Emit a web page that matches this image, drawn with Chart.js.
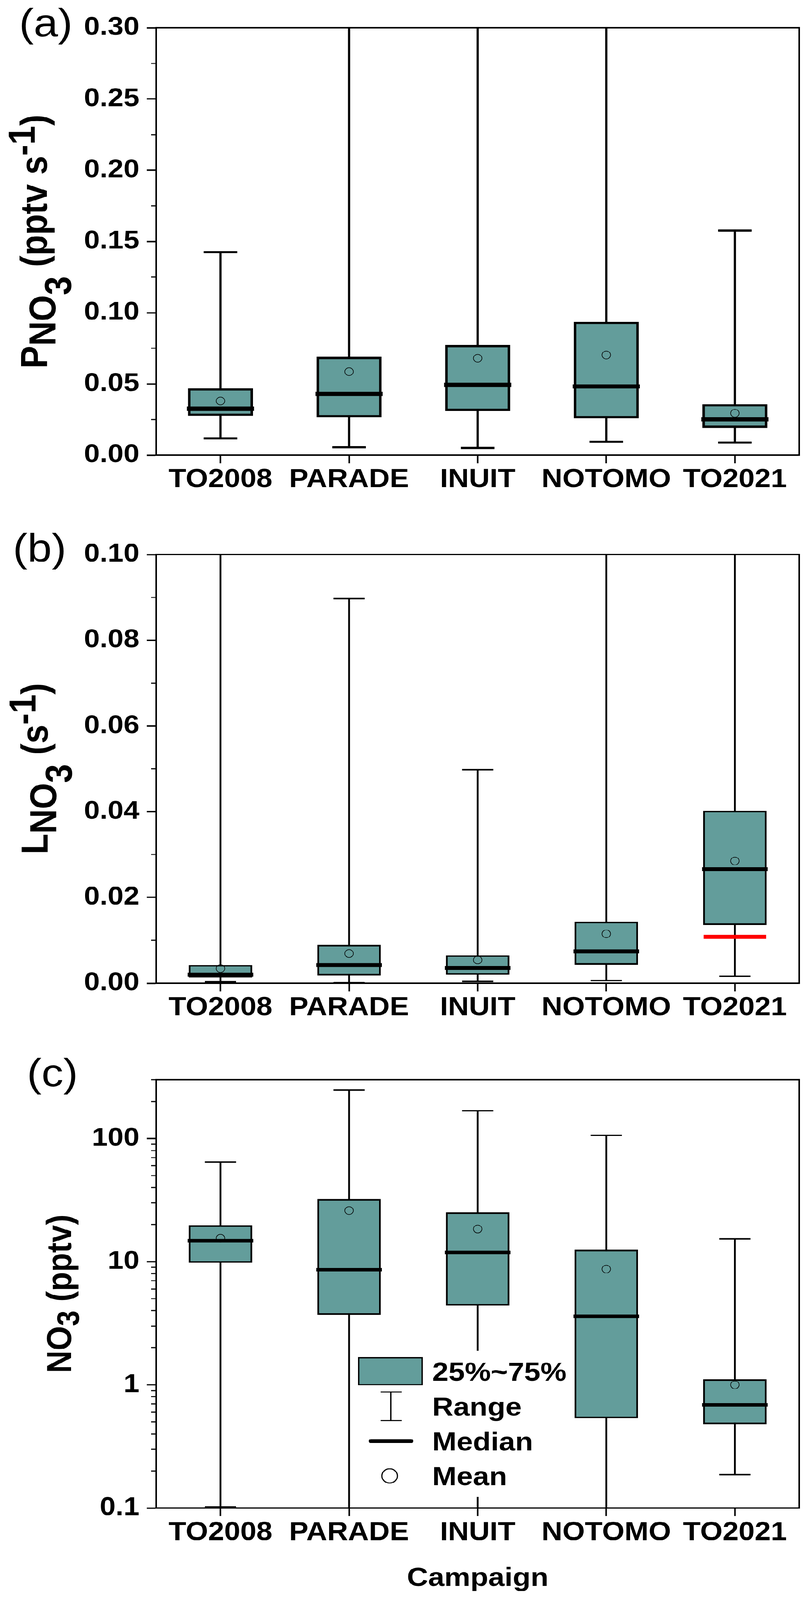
<!DOCTYPE html>
<html><head><meta charset="utf-8">
<script src="https://cdn.jsdelivr.net/npm/chart.js@4.4.1/dist/chart.umd.min.js"></script>
<style>
html,body{margin:0;padding:0;background:#fff;overflow:hidden;}
#wrap{position:relative;width:2067px;height:4539px;background:#fff;transform-origin:0 0;}
canvas{position:absolute;left:0;}
</style></head><body>
<div id="wrap">
<canvas id="ca" style="top:0px" width="2067" height="1460"></canvas>
<canvas id="cb" style="top:1460px" width="2067" height="1460"></canvas>
<canvas id="cc" style="top:2920px" width="2067" height="1619"></canvas>
</div>
<script>
const campaigns = ['TO2008','PARADE','INUIT','NOTOMO','TO2021'];

// (a) P(NO3), pptv s-1  (maxima above 0.30 are off-scale estimates)
const pMin  = [0.0117, 0.0055, 0.0050, 0.0093, 0.0088];
const pQ1   = [0.0276, 0.0265, 0.0310, 0.0259, 0.0192];
const pMed  = [0.0325, 0.0429, 0.0493, 0.0482, 0.0250];
const pQ3   = [0.0469, 0.0690, 0.0772, 0.0935, 0.0356];
const pMax  = [0.1426, 0.45, 0.40, 0.42, 0.1576];
const pMean = [0.0380, 0.0586, 0.0680, 0.0703, 0.0294];
const pTicks = [0, 0.05, 0.10, 0.15, 0.20, 0.25, 0.30];
const pTickLabels = ['0.00','0.05','0.10','0.15','0.20','0.25','0.30'];
const pMinor = [0.025, 0.075, 0.125, 0.175, 0.225, 0.275];

// (b) L(NO3), s-1  (maxima above 0.10 are off-scale estimates)
const lMin  = [0.0003, 0.0001, 0.0004, 0.0006, 0.0016];
const lQ1   = [0.0013, 0.0018, 0.0020, 0.0043, 0.0136];
const lMed  = [0.0020, 0.0042, 0.0035, 0.0074, 0.0266];
const lQ3   = [0.0042, 0.0089, 0.0065, 0.0143, 0.0402];
const lMax  = [0.15, 0.0897, 0.0498, 0.13, 0.12];
const lMean = [0.0034, 0.0069, 0.0054, 0.0115, 0.0285];
const lRed  = [null, null, null, null, 0.0108];
const lTicks = [0, 0.02, 0.04, 0.06, 0.08, 0.10];
const lTickLabels = ['0.00','0.02','0.04','0.06','0.08','0.10'];
const lMinor = [0.01, 0.03, 0.05, 0.07, 0.09];

// (c) NO3, pptv  (minima below 0.1 are off-scale estimates)
const nMin  = [0.102, 0.05, 0.05, 0.05, 0.187];
const nQ1   = [9.8, 3.7, 4.4, 0.536, 0.48];
const nMed  = [14.8, 8.6, 11.9, 3.6, 0.69];
const nQ3   = [19.7, 32.2, 25.1, 12.5, 1.107];
const nMax  = [64.3, 247, 168, 106, 15.3];
const nMean = [15.5, 26, 18.4, 8.7, 1.0];
const nTicks = [0.1, 1, 10, 100];
const nTickLabels = ['0.1','1','10','100'];
const nMinor = [0.2,0.3,0.4,0.5,0.6,0.7,0.8,0.9,2,3,4,5,6,7,8,9,20,30,40,50,60,70,80,90,200,300];

const TEAL = '#639D9B';
const FAM = "'Liberation Sans', Arial, Helvetica, sans-serif";

function drawRotatedRich(ctx, segs, baseX, centerY, size) {
  ctx.save();
  ctx.translate(baseX, centerY);
  ctx.rotate(-Math.PI / 2);
  let total = 0;
  const ws = segs.map(s => { ctx.font = 'bold ' + (s.size || size) + 'px ' + FAM; const w = ctx.measureText(s.t).width; total += w; return w; });
  let x = -total / 2;
  ctx.textBaseline = 'alphabetic'; ctx.textAlign = 'left'; ctx.fillStyle = '#000';
  segs.forEach((s, i) => { ctx.font = 'bold ' + (s.size || size) + 'px ' + FAM; ctx.fillText(s.t, x, s.dy || 0); x += ws[i]; });
  ctx.restore();
}

function noPad(s) { s.paddingLeft = 0; s.paddingRight = 0; s.paddingTop = 0; s.paddingBottom = 0; }

function makeChart(id, o) {
  const pt = (data, style, r, bw, color, order, bg) => ({
    type: 'line', data: data, showLine: false, pointStyle: style, pointRadius: r, pointHoverRadius: r,
    pointBorderWidth: bw, pointBorderColor: color, pointBackgroundColor: bg || 'rgba(0,0,0,0)',
    borderColor: color, order: order, clip: {left: 300, right: 300, top: 0, bottom: 12}
  });
  const datasets = [
    {type: 'bar', data: o.min.map((v, i) => [v, o.max[i]]), backgroundColor: '#000', borderWidth: 0,
     barThickness: o.whiskerW, grouped: false, order: 6, clip: 0},
    {type: 'bar', data: o.q1.map((v, i) => [v, o.q3[i]]), backgroundColor: TEAL, borderColor: '#000',
     borderWidth: o.boxBorder, borderSkipped: false, barThickness: o.boxW, grouped: false, order: 5, clip: 0},
    pt(o.min, 'line', o.capR, o.capW, '#000', 4),
    pt(o.max, 'line', o.capR, o.capW, '#000', 4),
    pt(o.mean, 'circle', o.meanR, o.meanW, '#000', 3),
    pt(o.med, 'line', o.medR, o.medW, '#000', 2)
  ];
  if (o.red) datasets.push(pt(o.red, 'line', 80, 11, '#FF0000', 1));

  const deco = {
    id: 'deco_' + id,
    afterDatasetsDraw(chart) {
      if (o.legend) o.legend(chart.ctx, chart);
    },
    afterDraw(chart) {
      const ctx = chart.ctx, a = chart.chartArea, ys = chart.scales.y;
      ctx.save();
      ctx.strokeStyle = '#000'; ctx.lineWidth = 4;
      ctx.beginPath();
      ctx.moveTo(a.left - 2, a.top); ctx.lineTo(a.right, a.top); ctx.lineTo(a.right, a.bottom + 2);
      ctx.stroke();
      ctx.lineWidth = 3;
      o.minor.forEach(v => {
        const y = Math.round(ys.getPixelForValue(v));
        ctx.beginPath(); ctx.moveTo(a.left - 13, y); ctx.lineTo(a.left, y); ctx.stroke();
      });
      ctx.restore();
      drawRotatedRich(ctx, o.title, o.titleX, (a.top + a.bottom) / 2, o.titleSize);
      ctx.save();
      ctx.font = o.panelSize + 'px ' + FAM; ctx.fillStyle = '#000';
      ctx.textAlign = 'left'; ctx.textBaseline = 'alphabetic';
      ctx.fillText(o.panel, o.panelX, o.panelY);
      ctx.restore();
    }
  };

  return new Chart(document.getElementById(id), {
    type: 'bar',
    data: {labels: campaigns, datasets: datasets},
    options: {
      responsive: false, animation: false, devicePixelRatio: 1, events: [],
      layout: {autoPadding: false, padding: {left: 0, right: 20, top: o.padTop, bottom: 0}},
      plugins: {legend: {display: false}, tooltip: {enabled: false}},
      scales: {
        x: {
          type: 'category', offset: true,
          grid: {drawOnChartArea: false, offset: false, tickLength: 23, tickWidth: 4, tickColor: '#000'},
          border: {width: 4, color: '#000'},
          ticks: {font: {family: FAM, size: 74, weight: 'bold'}, color: '#000', padding: o.xPad, maxRotation: 0, autoSkip: false},
          title: o.xTitle ? {display: true, text: o.xTitle, font: {family: FAM, size: 75, weight: 'bold'}, color: '#000', padding: {top: 0, bottom: 16}} : {display: false},
          afterFit: s => { s.height = o.xAxisH; noPad(s); }
        },
        y: {
          type: o.log ? 'logarithmic' : 'linear', min: o.yMin, max: o.yMax,
          grid: {drawOnChartArea: false, tickLength: 24, tickWidth: 4, tickColor: '#000'},
          border: {width: 4, color: '#000'},
          ticks: {font: {family: FAM, size: 73, weight: 'bold'}, color: '#000', padding: 19,
                  callback: (v, i) => o.tickLabels[i]},
          afterBuildTicks: s => { s.ticks = o.ticks.map(v => ({value: v})); },
          afterFit: s => { s.width = 400; noPad(s); }
        }
      }
    },
    plugins: [deco]
  });
}

makeChart('ca', {
  min: pMin, q1: pQ1, med: pMed, q3: pQ3, max: pMax, mean: pMean,
  ticks: pTicks, tickLabels: pTickLabels, minor: pMinor, yMin: 0, yMax: 0.30,
  padTop: 79, xAxisH: 169, xPad: 3,
  whiskerW: 5, boxW: 166, boxBorder: 6.5, capR: 43, capW: 6, medR: 86, medW: 12, meanR: 11, meanW: 1.5,
  title: [{t: 'P'}, {t: 'NO', dy: 22}, {t: '3', dy: 62}, {t: ' (pptv s'}, {t: '-1', dy: -31}, {t: ')'}],
  titleX: 120, titleSize: 96,
  panel: '(a)', panelX: 49, panelY: 103, panelSize: 112
});

makeChart('cb', {
  min: lMin, q1: lQ1, med: lMed, q3: lQ3, max: lMax, mean: lMean, red: lRed,
  ticks: lTicks, tickLabels: lTickLabels, minor: lMinor, yMin: 0, yMax: 0.10,
  padTop: 113, xAxisH: 131, xPad: 3,
  whiskerW: 4, boxW: 162, boxBorder: 4.5, capR: 40, capW: 4, medR: 84, medW: 11, meanR: 11, meanW: 1.5,
  title: [{t: 'L'}, {t: 'NO', dy: 22}, {t: '3', dy: 62}, {t: ' (s'}, {t: '-1', dy: -31}, {t: ')'}],
  titleX: 122, titleSize: 96,
  panel: '(b)', panelX: 33, panelY: 133, panelSize: 112
});

makeChart('cc', {
  min: nMin, q1: nQ1, med: nMed, q3: nQ3, max: nMax, mean: nMean, log: true,
  ticks: nTicks, tickLabels: nTickLabels, minor: nMinor, yMin: 0.1, yMax: 300,
  padTop: 143, xAxisH: 261, xPad: 3, xTitle: 'Campaign',
  whiskerW: 4, boxW: 162, boxBorder: 4.5, capR: 40, capW: 4, medR: 84, medW: 10, meanR: 11, meanW: 1.5,
  title: [{t: 'NO'}, {t: '3', dy: 20, size: 80}, {t: ' (pptv)'}],
  titleX: 182, titleSize: 89,
  panel: '(c)', panelX: 69, panelY: 162, panelSize: 112,
  legend: (ctx, chart) => {
    ctx.save();
    ctx.fillStyle = '#fff';
    ctx.fillRect(905, 912, 557, 415);
    ctx.fillStyle = TEAL; ctx.fillRect(917, 930, 166, 80);
    ctx.strokeStyle = '#000'; ctx.lineWidth = 3.5; ctx.strokeRect(918.75, 931.75, 162.5, 76.5);
    ctx.lineWidth = 3.5;
    ctx.beginPath();
    ctx.moveTo(1001, 1029); ctx.lineTo(1001, 1110);
    ctx.moveTo(975, 1029); ctx.lineTo(1029, 1029);
    ctx.moveTo(975, 1110); ctx.lineTo(1029, 1110);
    ctx.stroke();
    ctx.lineWidth = 11; ctx.lineCap = 'round';
    ctx.beginPath(); ctx.moveTo(950, 1168); ctx.lineTo(1053, 1168); ctx.stroke();
    ctx.lineCap = 'butt'; ctx.lineWidth = 3;
    ctx.beginPath(); ctx.arc(998, 1267, 20, 0, Math.PI * 2); ctx.stroke();
    ctx.fillStyle = '#000'; ctx.font = 'bold 75px ' + FAM; ctx.textAlign = 'left'; ctx.textBaseline = 'alphabetic';
    ctx.fillText('25%~75%', 1107, 997);
    ctx.fillText('Range', 1107, 1096);
    ctx.fillText('Median', 1107, 1195);
    ctx.fillText('Mean', 1107, 1293);
    ctx.restore();
  }
});

// fit the full 4539 px-tall figure into the viewport if the browser clamps its height
const H = window.innerHeight;
if (H && H < 4539) {
  document.getElementById('wrap').style.transform = 'scale(1,' + (H / 4539) + ')';
}
</script>
</body></html>
